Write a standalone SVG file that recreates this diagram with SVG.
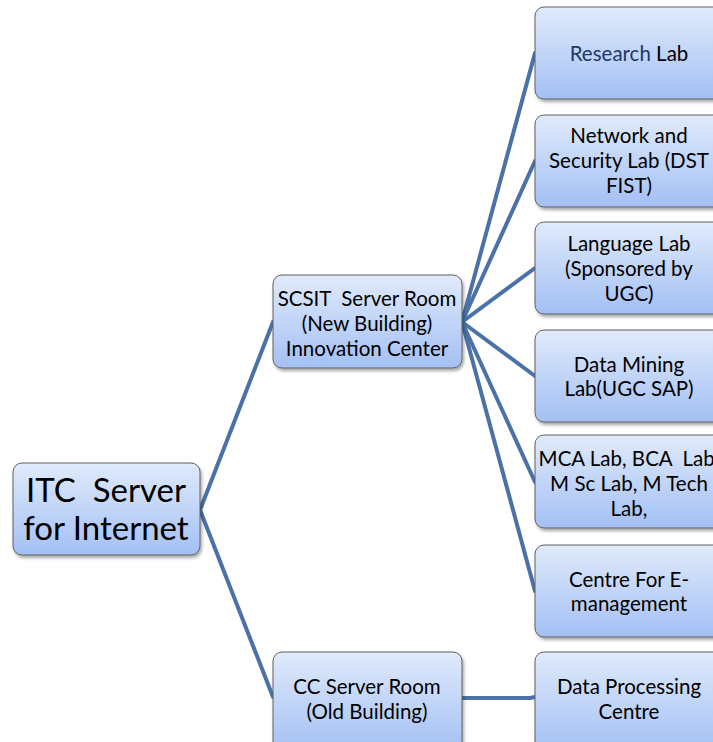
<svg xmlns="http://www.w3.org/2000/svg" width="713" height="742" viewBox="0 0 713 742">
<defs>
<linearGradient id="g" x1="0" y1="0" x2="0" y2="1">
<stop offset="0" stop-color="#e0eafb"/>
<stop offset="1" stop-color="#a3c0f4"/>
</linearGradient>
<filter id="sh" x="-10%" y="-10%" width="130%" height="130%">
<feDropShadow dx="1.5" dy="2.5" stdDeviation="1.5" flood-color="#000" flood-opacity="0.35"/>
</filter>
<style>
.box{fill:url(#g);stroke:#606060;stroke-width:1;filter:url(#sh)}
.t{font-family:Lato,"Open Sans",sans-serif;font-size:20.5px;fill:#000;text-anchor:middle;white-space:pre}
.big{font-size:33px}
.con{stroke:#4a72a8;stroke-width:4;fill:none;stroke-linecap:round}
</style>
</defs>
<rect width="713" height="742" fill="#fff"/>
<g id="connectors">
<polyline class="con" points="273,322 200,510 273,697"/>
<line class="con" x1="462" y1="322" x2="535" y2="53"/>
<line class="con" x1="462" y1="322" x2="535" y2="161"/>
<line class="con" x1="462" y1="322" x2="535" y2="268"/>
<line class="con" x1="462" y1="322" x2="535" y2="376"/>
<line class="con" x1="462" y1="322" x2="535" y2="482"/>
<line class="con" x1="462" y1="322" x2="535" y2="591"/>
<polyline class="con" points="462,698 530,698 535,697"/>
</g>
<g id="root">
<rect class="box" x="13" y="463" width="187" height="92" rx="9"/>
<text class="t big" x="106" y="502" xml:space="preserve">ITC  Server</text>
<text class="t big" x="106" y="540">for Internet</text>
</g>
<g id="scsit">
<rect class="box" x="273" y="275" width="189" height="93" rx="9"/>
<text class="t" x="367" y="306" xml:space="preserve">SCSIT  Server Room</text>
<text class="t" x="367" y="331">(New Building)</text>
<text class="t" x="367" y="356">Innovation Center</text>
</g>
<g id="cc">
<rect class="box" x="273" y="652" width="189" height="100" rx="9"/>
<text class="t" x="367" y="694">CC Server Room</text>
<text class="t" x="367" y="719">(Old Building)</text>
</g>
<g id="research">
<rect class="box" x="535" y="7" width="189" height="92" rx="9"/>
<text class="t" x="629" y="61"><tspan fill="#1f3864">Research</tspan> Lab</text>
</g>
<g id="network">
<rect class="box" x="535" y="115" width="189" height="92" rx="9"/>
<text class="t" x="629" y="143">Network and</text>
<text class="t" x="629" y="168">Security Lab (DST</text>
<text class="t" x="629" y="193">FIST)</text>
</g>
<g id="language">
<rect class="box" x="535" y="222" width="189" height="92" rx="9"/>
<text class="t" x="629" y="251">Language Lab</text>
<text class="t" x="629" y="276">(Sponsored by</text>
<text class="t" x="629" y="301">UGC)</text>
</g>
<g id="datamining">
<rect class="box" x="535" y="330" width="189" height="92" rx="9"/>
<text class="t" x="629" y="372">Data Mining</text>
<text class="t" x="629" y="396">Lab(UGC SAP)</text>
</g>
<g id="mca">
<rect class="box" x="535" y="435" width="189" height="93" rx="9"/>
<text class="t" x="629" y="466" xml:space="preserve">MCA Lab, BCA  Lab,</text>
<text class="t" x="629" y="491">M Sc Lab, M Tech</text>
<text class="t" x="629" y="516">Lab,</text>
</g>
<g id="emanagement">
<rect class="box" x="535" y="545" width="189" height="92" rx="9"/>
<text class="t" x="629" y="587">Centre For E-</text>
<text class="t" x="629" y="611">management</text>
</g>
<g id="dataprocessing">
<rect class="box" x="535" y="652" width="189" height="100" rx="9"/>
<text class="t" x="629" y="694">Data Processing</text>
<text class="t" x="629" y="719">Centre</text>
</g>
</svg>
